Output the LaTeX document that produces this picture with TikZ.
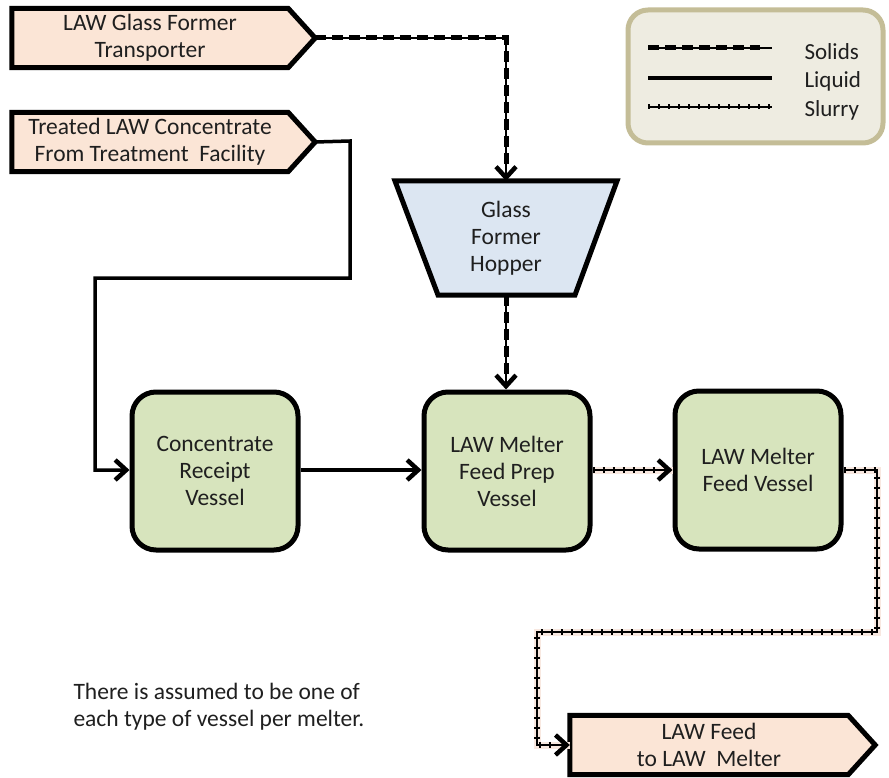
\documentclass[tikz,border=0pt]{standalone}
\usepackage{fontspec}
\setmainfont{Carlito}
\usetikzlibrary{arrows.meta,backgrounds,calc}
\definecolor{peach}{HTML}{FBE5D6}
\definecolor{vgreen}{HTML}{D7E4BD}
\definecolor{hopblue}{HTML}{DCE6F2}
\definecolor{legfill}{HTML}{EEECE1}
\definecolor{legdraw}{HTML}{C4BD97}
\definecolor{slurrycase}{HTML}{F8E8E0}
\begin{document}
\begin{tikzpicture}[x=1pt,y=-1pt,
  txt/.style={font=\fontsize{23.5}{27}\selectfont, align=center, text=black!88},
  pentbody/.style={txt, minimum width=276, minimum height=59, inner sep=0},
  pentline/.style={draw=black, line width=5, fill=peach, line join=miter},
  vessel/.style={txt, draw=black, line width=5, fill=vgreen, rounded corners=24, minimum width=166, minimum height=158, inner sep=0},
  hopline/.style={draw=black, line width=5, fill=hopblue, line join=miter},
  legbox/.style={draw=legdraw, line width=5, fill=legfill, rounded corners=20},
  tipx/.style={-{Straight Barb[length=11,width=20,line width=4.5]}},
  liquidline/.style={draw=black, line width=3.5},
  solidsline/.style={draw=black, line width=1.5, postaction={draw=black, -, line width=5, dash pattern=on 11 off 6, shorten >=12}},
  slurryline/.style={draw=black, line width=1.5, preaction={draw=slurrycase, -, line width=7}, postaction={draw=black, -, line width=6, dash pattern=on 2 off 8, shorten >=12}},
  legtxt/.style={font=\fontsize{23}{27}\selectfont, text=black!88, anchor=west}
]
\useasboundingbox (0,0) rectangle (889,778);

% legend
\draw[legbox] (628,10) rectangle (883,143);
\coordinate (ls1) at (648,48); \coordinate (le1) at (772,48);
\coordinate (ls2) at (648,78); \coordinate (le2) at (772,78);
\coordinate (ls3) at (648,107); \coordinate (le3) at (772,107);
\draw[solidsline] (ls1) -- (le1);
\draw[liquidline] (ls2) -- (le2);
\draw[draw=black, line width=1.5, postaction={draw=black, line width=5, dash pattern=on 2 off 8}] (ls3) -- (le3);
\node[legtxt] (lsol) at (801,52) {Solids};
\node[legtxt] (lliq) at (801,81) {Liquid};
\node[legtxt] (lslu) at (801,110) {Slurry};

% source / sink boxes
\node[pentbody] (gft) at (150,38) {LAW Glass Former\\Transporter};
\node[pentbody] (tlc) at (150,142) {Treated LAW Concentrate\\From Treatment\ \ Facility};
\node[pentbody, minimum width=278] (feed) at (709,745) {LAW Feed\\to LAW\ \ Melter};
\coordinate (gfttip) at ($(gft.east)+(27,0)$);
\coordinate (tlctip) at ($(tlc.east)+(27,0)$);
\coordinate (feedtip) at ($(feed.east)+(27,0)$);
\begin{scope}[on background layer]
\draw[pentline] (gft.north west) -- (gft.north east) -- (gfttip) -- (gft.south east) -- (gft.south west) -- cycle;
\draw[pentline] (tlc.north west) -- (tlc.north east) -- (tlctip) -- (tlc.south east) -- (tlc.south west) -- cycle;
\draw[pentline] (feed.north west) -- (feed.north east) -- (feedtip) -- (feed.south east) -- (feed.south west) -- cycle;
\end{scope}

% hopper
\node[txt] (hop) at (506,238) {Glass\\Former\\Hopper};
\coordinate (hoptop) at (506,181);
\coordinate (hopbot) at (506,295);
\begin{scope}[on background layer]
\draw[hopline] (395,181) -- (617,181) -- (575,295) -- (438,295) -- cycle;
\end{scope}

% vessels
\node[vessel] (crv) at (215,471) {Concentrate\\Receipt\\Vessel};
\node[vessel] (fpv) at (507,471) {LAW Melter\\Feed Prep\\Vessel};
\node[vessel] (fv) at (758,470) {LAW Melter\\Feed Vessel};

% connectors
\draw[solidsline, tipx] (gfttip) -- (gfttip -| hoptop) -- (hoptop);
\draw[solidsline, tipx] (hopbot) -- (hopbot |- fpv.north);
\draw[liquidline, tipx] (tlctip) -- (350,141) -- (350,278) -- (95,278) -- (95,470) -- (crv.west |- 0,470);
\draw[liquidline, tipx] (crv.east |- 0,470) -- (fpv.west |- 0,470);
\draw[slurryline, tipx] (fpv.east |- 0,470) -- (fv.west |- 0,470);
\draw[slurryline, tipx] (fv.east |- 0,470) -- (877,470) -- (877,632) -- (537,632) -- (537,745) -- (feed.west);

% note
\node[font=\fontsize{23.5}{27}\selectfont, text=black!88, align=left, anchor=west] (note) at (70,707) {There is assumed to be one of\\each type of vessel per melter.};
\end{tikzpicture}
\end{document}
